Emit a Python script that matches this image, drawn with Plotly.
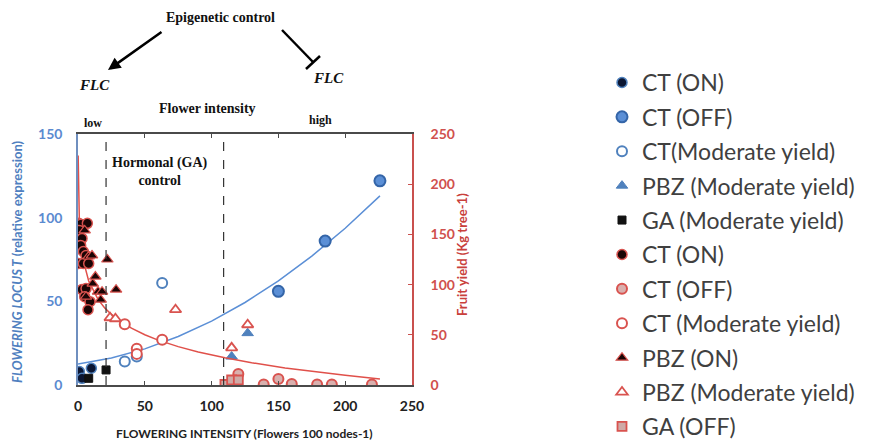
import plotly.graph_objects as go

# ---- FT expression (left axis) ----
ft_ct_on_x = [1, 3, 10]
ft_ct_on_y = [8, 4, 10]
ft_ct_off_x = [150, 185, 226]
ft_ct_off_y = [56, 86, 122]
ft_ct_mod_x = [35, 44, 63]
ft_ct_mod_y = [14, 17, 61]
ft_pbz_mod_x = [115, 127]
ft_pbz_mod_y = [17, 31]
ft_ga_mod_x = [8, 21]
ft_ga_mod_y = [4, 9]
ft_trend_x = [0, 25, 50, 75, 100, 125, 150, 175, 200, 226]
ft_trend_y = [12.5, 16.1, 21.6, 29.0, 38.2, 49.3, 62.2, 77.0, 93.7, 113.0]

# ---- Fruit yield (right axis) ----
fy_ct_on_x = [0.5, 2, 7, 1, 3, 2, 4, 6, 0.5, 4, 8, 3, 6, 5, 9, 7.5]
fy_ct_on_y = [161, 160, 161, 154, 146, 139, 133, 129, 121, 121, 121, 95, 96, 88, 83, 75]
fy_ct_off_x = [120, 139, 150, 160, 179, 190, 220]
fy_ct_off_y = [11, 0.5, 6, 1, 0.5, 0.5, 0.5]
fy_ct_mod_x = [35, 44, 44, 63]
fy_ct_mod_y = [60.5, 36, 31, 45]
fy_pbz_on_x = [5, 8, 10.5, 22, 11, 15, 18, 17, 28.5, 6, 13]
fy_pbz_on_y = [154, 128, 129, 125, 101, 93, 93, 85, 95, 88, 108]
fy_pbz_mod_x = [24, 28, 73, 115, 127]
fy_pbz_mod_y = [67, 66, 75, 37, 60]
fy_ga_off_x = [110, 115, 120]
fy_ga_off_y = [0.5, 5, 5]
fy_trend_x = [0.11, 0.25, 0.5, 1, 2, 4, 8, 15, 20, 25, 30, 40, 50, 60, 75, 90,
              110, 130, 155, 180, 200, 226]
fy_trend_y = [228.7, 204.8, 184.5, 164.3, 144.1, 123.8, 103.6, 85.2, 76.8, 70.3,
              65.0, 56.6, 50.1, 44.7, 38.2, 32.9, 27.1, 22.2, 17.0, 12.7, 9.6, 6.0]

BLUE = "#4f81bd"
BLUE_DK = "#3465a8"
RED = "#d9534f"
NAVY = "#0b1633"

fig = go.Figure()

# trend lines
fig.add_trace(go.Scatter(x=ft_trend_x, y=ft_trend_y, mode="lines",
                         line=dict(color="#5b8fd6", width=1.5), showlegend=False,
                         hoverinfo="skip"))
fig.add_trace(go.Scatter(x=fy_trend_x, y=fy_trend_y, mode="lines", yaxis="y2",
                         line=dict(color="#e0504a", width=1.5), showlegend=False,
                         hoverinfo="skip"))

def pts(name, x, y, symbol, fill, edge, width, size, yaxis="y"):
    fig.add_trace(go.Scatter(
        x=x, y=y, mode="markers", name=name, yaxis=yaxis, legendgroup=name + yaxis,
        marker=dict(symbol=symbol, color=fill, size=size,
                    line=dict(color=edge, width=width))))

pts("CT (ON)", ft_ct_on_x, ft_ct_on_y, "circle", NAVY, BLUE, 1.5, 10)
pts("CT (OFF)", ft_ct_off_x, ft_ct_off_y, "circle", "#5b8fd6", BLUE_DK, 2, 11)
pts("CT(Moderate yield)", ft_ct_mod_x, ft_ct_mod_y, "circle", "white", BLUE, 2, 10)
pts("PBZ (Moderate yield)", ft_pbz_mod_x, ft_pbz_mod_y, "triangle-up", BLUE, BLUE, 1, 10)
pts("GA (Moderate yield)", ft_ga_mod_x, ft_ga_mod_y, "square", "#111111", "#111111", 1, 8)

pts("CT (ON)", fy_ct_on_x, fy_ct_on_y, "circle", "#1a0505", RED, 1.5, 10, "y2")
pts("CT (OFF)", fy_ct_off_x, fy_ct_off_y, "circle", "#d9b0ae", RED, 2, 10, "y2")
pts("CT (Moderate yield)", fy_ct_mod_x, fy_ct_mod_y, "circle", "white", RED, 2, 10, "y2")
pts("PBZ (ON)", fy_pbz_on_x, fy_pbz_on_y, "triangle-up", "#1a0505", RED, 1.2, 10, "y2")
pts("PBZ (Moderate yield)", fy_pbz_mod_x, fy_pbz_mod_y, "triangle-up", "white", RED, 1.8, 10, "y2")
pts("GA (OFF)", fy_ga_off_x, fy_ga_off_y, "square", "#cfaaa7", RED, 1.8, 9, "y2")

# plot area in pixels: x 78..412, y 134..385
L, R, T, B = 78, 412, 134, 385
def px(p):
    return (p - L) / (R - L)
def py(p):
    return (B - p) / (B - T)

serif = "Liberation Serif"
shapes = [
    dict(type="line", xref="x", yref="paper", x0=v, x1=v, y0=0, y1=1,
         line=dict(color="#333333", width=1.2, dash="dash"))
    for v in (21, 109)
]
# inhibition arrow (T-bar)
shapes.append(dict(type="line", xref="paper", yref="paper",
                   x0=px(282), y0=py(30), x1=px(313), y1=py(62),
                   line=dict(color="black", width=2.5)))
shapes.append(dict(type="line", xref="paper", yref="paper",
                   x0=px(306), y0=py(69), x1=px(320), y1=py(56),
                   line=dict(color="black", width=2.5)))

def txt(s, x, y, size=14, style="normal"):
    return dict(text=s, xref="paper", yref="paper", x=px(x), y=py(y),
                showarrow=False, xanchor="center", yanchor="middle",
                font=dict(family=serif, size=size, color="#111111",
                          weight="bold", style=style))

annotations = [
    txt("Epigenetic control", 220, 18, 14),
    txt("FLC", 94, 85, 15, "italic"),
    txt("FLC", 328, 78, 15, "italic"),
    txt("Flower intensity", 207, 108, 14),
    txt("low", 93, 123, 12),
    txt("high", 320, 120, 12),
    txt("Hormonal (GA)<br>control", 160, 171, 14),
    dict(text="", xref="paper", yref="paper", x=px(108), y=py(70),
         ax=55, ay=-39, showarrow=True, arrowhead=2, arrowsize=1,
         arrowwidth=2.5, arrowcolor="black"),
    dict(text="FLOWERING INTENSITY (Flowers 100 nodes-1)", xref="paper", yref="paper",
         x=px(244), y=py(433), showarrow=False, xanchor="center", yanchor="middle",
         font=dict(family="Lato", size=12, color="#222222", weight="bold")),
    dict(text="<i>FLOWERING LOCUS T</i> (relative expression)", xref="paper", yref="paper",
         x=px(17), y=py(262), showarrow=False, textangle=-90, xanchor="center",
         yanchor="middle", font=dict(family="Lato", size=13, color="#4f7fc0", weight="bold")),
    dict(text="Fruit yield (Kg tree-1)", xref="paper", yref="paper",
         x=px(462), y=py(255), showarrow=False, textangle=-90, xanchor="center",
         yanchor="middle", font=dict(family="Lato", size=13, color="#c9403c", weight="bold")),
]

fig.update_layout(
    width=876, height=442,
    margin=dict(l=L, r=876 - R, t=T, b=442 - B, pad=0, autoexpand=False),
    paper_bgcolor="white", plot_bgcolor="white",
    xaxis=dict(range=[0, 250], tickvals=[0, 50, 100, 150, 200, 250],
               showline=True, linecolor="#4a4a4a", linewidth=1.5, mirror="ticks",
               ticks="inside", ticklen=4, tickcolor="#4a4a4a", showgrid=False,
               zeroline=False, ticklabelstandoff=7,
               tickfont=dict(family="Lato", size=14, color="#222222", weight="bold")),
    yaxis=dict(range=[0, 150], tickvals=[0, 50, 100, 150], showline=True,
               linecolor="#6f8fbf", linewidth=1.5, ticks="", showgrid=False,
               zeroline=False, ticklabelstandoff=11,
               tickfont=dict(family="Lato", size=14, color="#5b8ad0", weight="bold")),
    yaxis2=dict(range=[0, 250], tickvals=[0, 50, 100, 150, 200, 250], overlaying="y",
                side="right", showline=True, linecolor="#c9504d", linewidth=1.5,
                ticks="inside", ticklen=4, tickcolor="#c9504d", showgrid=False,
                zeroline=False, ticklabelstandoff=14,
                tickfont=dict(family="Lato", size=14, color="#d0504d", weight="bold")),
    legend=dict(x=px(602), y=py(61), xanchor="left", yanchor="top",
                font=dict(family="Lato", size=23, color="#404040"),
                tracegroupgap=1.5, bgcolor="rgba(0,0,0,0)", maxheight=442,
                itemwidth=30),
    shapes=shapes, annotations=annotations,
    showlegend=True,
)

fig.write_html("out.html")
